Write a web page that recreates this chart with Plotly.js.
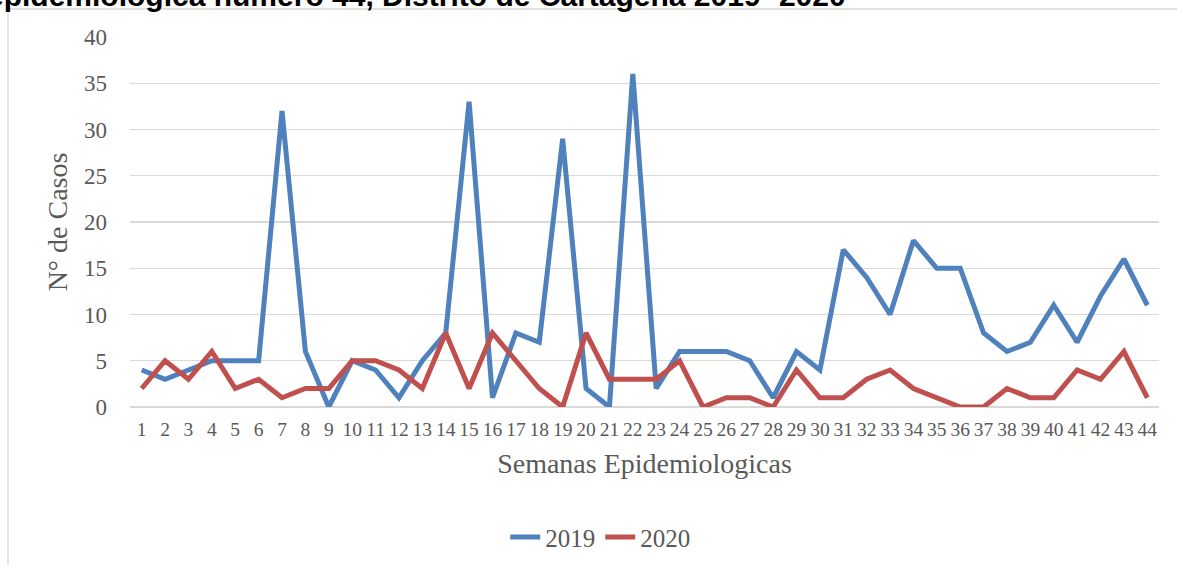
<!DOCTYPE html>
<html>
<head>
<meta charset="utf-8">
<script src="https://cdn.plot.ly/plotly-3.0.1.min.js"></script>
<style>html,body{margin:0;padding:0;background:#fff;overflow:hidden;}#chart{width:1177px;height:565px;}</style>
</head>
<body>
<div id="chart"></div>
<script>
const semanas = ["1","2","3","4","5","6","7","8","9","10","11","12","13","14","15","16","17","18","19","20","21","22","23","24","25","26","27","28","29","30","31","32","33","34","35","36","37","38","39","40","41","42","43","44"];
const casos2019 = [4,3,4,5,5,5,32,6,0,5,4,1,5,8,33,1,8,7,29,2,0,36,2,6,6,6,5,1,6,4,17,14,10,18,15,15,8,6,7,11,7,12,16,11];
const casos2020 = [2,5,3,6,2,3,1,2,2,5,5,4,2,8,2,8,5,2,0,8,3,3,3,5,0,1,1,0,4,1,1,3,4,2,1,0,0,2,1,1,4,3,6,1];
const yTicks = [0,5,10,15,20,25,30,35,40];

const serif = "'Liberation Serif', 'Times New Roman', serif";
const grey = "#595959";

const traces = [
  {x: semanas, y: casos2019, type: "scatter", mode: "lines", name: "2019",
   line: {color: "#4F81BD", width: 5, shape: "linear"}},
  {x: semanas, y: casos2020, type: "scatter", mode: "lines", name: "2020",
   line: {color: "#C0504D", width: 5, shape: "linear"}}
];

const layout = {
  width: 1177, height: 565,
  margin: {l: 130, r: 18, t: 37, b: 158, autoexpand: false},
  paper_bgcolor: "#ffffff", plot_bgcolor: "#ffffff",
  showlegend: true,
  legend: {orientation: "h", x: 0.457, xanchor: "center", y: -0.352, yanchor: "middle",
           font: {family: serif, size: 25, color: grey}, tracegroupgap: 0},
  xaxis: {type: "category", range: [-0.5, semanas.length - 0.5], autorange: false,
          tickmode: "array", tickvals: semanas, ticktext: semanas, tickangle: 0,
          showgrid: false, zeroline: false, showline: false, automargin: false,
          ticks: "", ticklabelstandoff: 8,
          tickfont: {family: serif, size: 19.5, color: grey},
          title: {text: "Semanas Epidemiologicas", font: {family: serif, size: 28, color: grey}, standoff: 14}},
  yaxis: {range: [0, 40], autorange: false, tickvals: yTicks, ticktext: yTicks.map(String),
          showgrid: true, gridcolor: "#D9D9D9", gridwidth: 1.3, automargin: false,
          zeroline: true, zerolinecolor: "#D9D9D9", zerolinewidth: 1.3,
          showline: false, ticks: "", ticklabelstandoff: 22,
          tickfont: {family: serif, size: 23, color: grey},
          title: {text: "N° de Casos", font: {family: serif, size: 28, color: grey}, standoff: 8}},
  shapes: [
    {type: "rect", xref: "paper", yref: "paper", layer: "below",
     x0: (8-130)/1029, x1: (1200-130)/1029, y0: (407-9)/370, y1: (407-600)/370,
     line: {color: "#D9D9D9", width: 1.3}, fillcolor: "rgba(0,0,0,0)"}
  ],
  annotations: [
    {text: "<b>epidemiológica número 44, Distrito de Cartagena 2019- 2020</b>", xref: "paper", yref: "paper",
     x: (848-130)/1029, xanchor: "right", y: (407-14)/370, yanchor: "bottom", showarrow: false,
     font: {family: "'Liberation Sans', Arial, sans-serif", size: 30, color: "#000"}}
  ]
};

Plotly.newPlot("chart", traces, layout, {displayModeBar: false, staticPlot: true});
</script>
</body>
</html>
